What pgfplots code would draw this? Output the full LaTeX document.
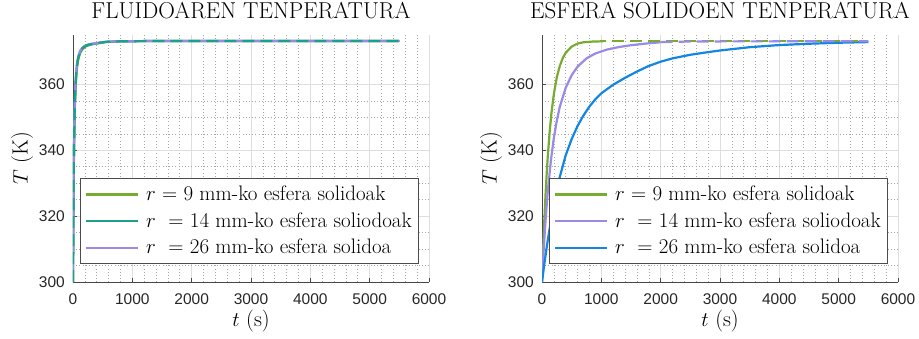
\documentclass[border=0pt]{standalone}
\usepackage{pgfplots}
\pgfplotsset{compat=1.18}
\usepackage{fontspec}
\newfontfamily\ticksf{Liberation Sans}
\definecolor{cgreen}{RGB}{119,172,48}
\definecolor{cteal}{RGB}{28,160,140}
\definecolor{cpurple}{RGB}{152,138,230}
\definecolor{cblue}{RGB}{18,134,224}
\definecolor{ctick}{RGB}{38,38,38}
\pgfplotsset{
  myaxis/.style={
    scale only axis, width=356pt, height=247pt, anchor=south west,
    xmin=0, xmax=6000, ymin=300, ymax=375,
    xtick={0,1000,...,6000}, ytick={300,320,340,360},
    minor x tick num=4, minor y tick num=3,
    grid=both,
    major grid style={line width=0.5pt, black!13},
    minor grid style={line width=0.6pt, black!35, dash pattern=on 0.6pt off 2.6pt},
    axis x line*=bottom, axis y line*=left,
    axis line style={black!72, line width=0.6pt},
    tick style={black!72, line width=0.6pt},
    tick align=inside, major tick length=4pt, minor tick length=0pt,
    /pgf/number format/.cd, set thousands separator={}, assume math mode=true, /pgfplots/.cd,
    ticklabel style={font=\ticksf\fontsize{15.5}{16}\selectfont, text=ctick},
    yticklabel style={anchor=east, inner sep=0pt, xshift=-8pt},
    xticklabel style={anchor=north, inner sep=0pt, yshift=-11pt},
    title style={font=\fontsize{23}{25}\selectfont, anchor=base, at={(axis description cs:0.5,1.0445)}},
    xlabel style={font=\fontsize{22}{24}\selectfont, anchor=base, at={(axis description cs:0.5,-0.182)}},
    ylabel style={font=\fontsize{22}{24}\selectfont, anchor=center, at={(axis description cs:-0.143,0.5)}, rotate=0},
    xlabel={$t$ (s)}, ylabel={$T$ (K)},
    legend cell align=left,
    legend image code/.code={\draw[#1, solid, line width=2.2pt] (0pt,0pt) -- (52pt,0pt); \path (57pt,0pt);},
    legend style={at={(axis description cs:0.0197,0.073)}, anchor=south west,
      draw=black!70, line width=0.6pt, fill=white,
      font=\fontsize{21}{23}\selectfont,
      inner xsep=4.5pt, inner ysep=4.8pt, row sep=4.7pt,
      nodes={inner sep=2pt, text height=15pt, text depth=3pt}},
    every axis plot/.append style={line width=2.2pt},
  }
}
\begin{document}
\begin{tikzpicture}
\path[use as bounding box] (0,0) rectangle (919pt,338pt);
% ---------------- left ----------------
\begin{axis}[myaxis, at={(73pt,56pt)}, title={FLUIDOAREN TENPERATURA}]
\addplot[cgreen, line width=2.2pt] coordinates {(0,300) (5,315.5) (10,327.5) (15,336.3) (20,343) (30,352) (40,357.6) (55,362.6) (70,365.5) (90,367.7) (120,369.5) (160,370.7) (220,371.6) (300,372.1) (400,372.4) (550,372.85) (800,373.08) (1200,373.15) (5500,373.15)};
\addlegendentry{$r$ = 9 mm-ko esfera solidoak}
\addplot[cteal, line width=2.2pt] coordinates {(0,300) (5,317) (10,329.1) (15,337.8) (20,344.4) (30,353.2) (40,358.6) (55,363.4) (70,366.1) (90,368.2) (120,369.9) (160,371) (220,371.8) (300,372.2) (400,372.5) (550,372.9) (800,373.1) (1200,373.15) (5500,373.15)};
\addlegendentry{$r$\ \ = 14 mm-ko esfera soliodoak}
\addplot[cpurple, line width=2.2pt] coordinates {(0,300) (5,318.5) (10,330.5) (15,339.2) (20,345.7) (30,354.3) (40,359.5) (55,364.1) (70,366.7) (90,368.6) (120,370.2) (160,371.2) (220,371.95) (300,372.3) (400,372.55) (550,372.92) (800,373.1) (1200,373.15) (5500,373.15)};
\addlegendentry{$r$\ \ = 26 mm-ko esfera solidoa}
\addplot[cteal, line width=2.2pt, dash pattern=on 12pt off 6pt, forget plot] coordinates {(0,300) (5,317) (10,329.1) (15,337.8) (20,344.4) (30,353.2) (40,358.6) (55,363.4) (70,366.1) (90,368.2) (120,369.9) (160,371) (220,371.8) (300,372.2) (400,372.5) (550,372.9) (800,373.1) (1200,373.15) (5500,373.15)};
\end{axis}
% ---------------- right ----------------
\begin{axis}[myaxis, at={(542pt,56pt)}, title={ESFERA SOLIDOEN TENPERATURA}]
\addplot[cgreen, line width=2.2pt] coordinates {(0,300) (20,310.3) (40,319.1) (60,326.7) (80,333.2) (100,338.8) (130,345.8) (160,351.4) (200,357.1) (250,362.2) (300,365.6) (350,368) (400,369.6) (500,371.5) (600,372.4) (700,372.8) (850,373) (1030,373.1)};
\addlegendentry{$r$ = 9 mm-ko esfera solidoak}
\addplot[cpurple, line width=2.2pt] coordinates {(0,300) (25,308.7) (50,316.1) (75,322.5) (100,328) (150,336.9) (200,343.8) (250,349) (300,353.2) (400,359) (500,362.8) (600,365.4) (750,367.9) (900,369.4) (1100,370.6) (1300,371.35) (1500,371.9) (1750,372.4) (2000,372.8)};
\addlegendentry{$r$\ \ = 14 mm-ko esfera soliodoak}
\addplot[cblue, line width=2.2pt] coordinates {(0,300) (50,306.9) (100,313) (150,318.5) (200,323.3) (250,327.9) (300,331.9) (400,338.5) (500,343.4) (600,347.4) (700,350.6) (800,353.3) (900,355.5) (1000,357.3) (1200,359.9) (1400,362) (1600,363.9) (1800,365.6) (2000,366.9) (2200,367.9) (2500,369) (2800,369.8) (3000,370.3) (3500,371.3) (4000,371.95) (4500,372.35) (5000,372.65) (5500,372.85)};
\addlegendentry{$r$\ \ = 26 mm-ko esfera solidoa}
\addplot[cgreen, line width=2.2pt, dash pattern=on 12pt off 6pt, dash phase=9pt, forget plot] coordinates {(1030,373.1) (5500,373.1)};
\addplot[cpurple, line width=2.2pt, dash pattern=on 12pt off 6pt, forget plot] coordinates {(2000,372.85) (2600,373.05) (5500,373.1)};
\end{axis}
\end{tikzpicture}
\end{document}
